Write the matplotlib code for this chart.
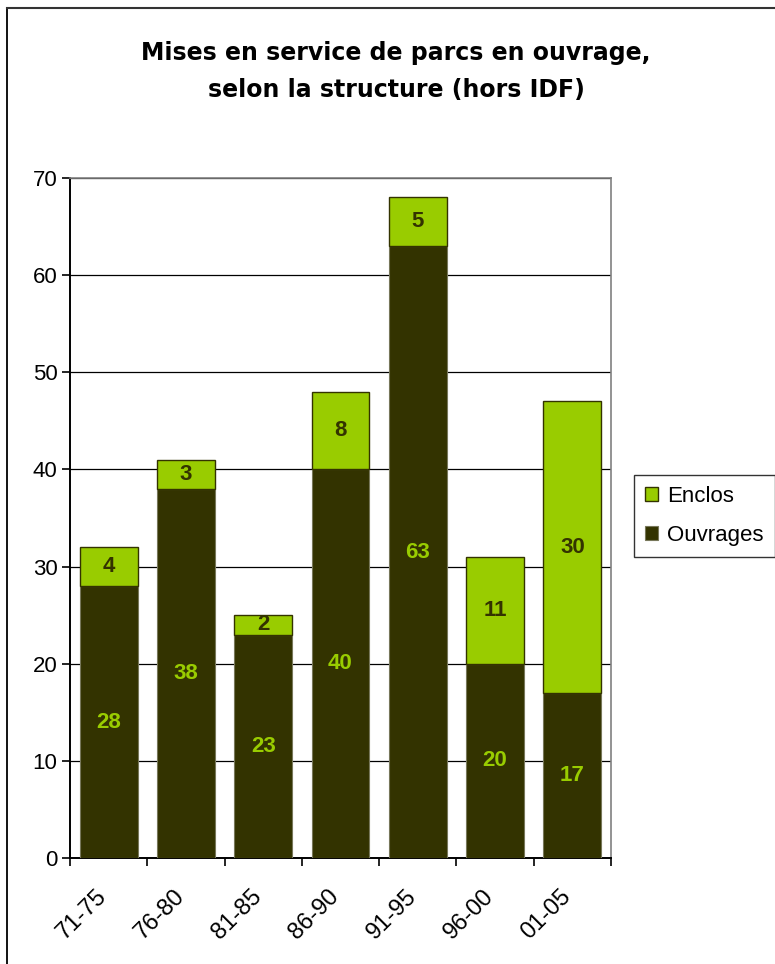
import matplotlib.pyplot as plt
import matplotlib.transforms as mtransforms
from matplotlib.lines import Line2D

plt.rcParams['font.family'] = ['Liberation Sans', 'DejaVu Sans']

periods = ['71-75', '76-80', '81-85', '86-90', '91-95', '96-00', '01-05']
ouvrages = [28, 38, 23, 40, 63, 20, 17]
enclos = [4, 3, 2, 8, 5, 11, 30]

dark = '#333300'
green = '#99cc00'

W, H = 775, 964
fig = plt.figure(figsize=(W / 100, H / 100), dpi=100)

# frame around the chart (left and top edges visible)
fig.add_artist(Line2D([6.5 / W, 6.5 / W], [0, 1 - 8 / H], transform=fig.transFigure,
                      color='black', linewidth=1.3))
fig.add_artist(Line2D([6.5 / W, 1], [1 - 8 / H, 1 - 8 / H], transform=fig.transFigure,
                      color='#333333', linewidth=1.5))

ax = fig.add_axes([70 / W, 1 - 858 / H, (611 - 70) / W, (858 - 178) / H])

x = list(range(len(periods)))
ax.bar(x, ouvrages, width=0.75, color=dark, edgecolor='#77775a', linewidth=0.8,
       label='Ouvrages', zorder=3)
ax.bar(x, enclos, width=0.75, bottom=ouvrages, color=green, edgecolor=dark,
       linewidth=1.0, label='Enclos', zorder=3)

for i, (o, e) in enumerate(zip(ouvrages, enclos)):
    ax.text(i, o / 2, str(o), ha='center', va='center', color=green,
            fontsize=16, fontweight='bold', zorder=4)
    ax.text(i, o + e / 2, str(e), ha='center', va='center', color=dark,
            fontsize=16, fontweight='bold', zorder=4)

ax.set_xlim(-0.5, len(periods) - 0.5)
ax.set_ylim(0, 70)
ax.set_yticks(range(0, 71, 10))
ax.yaxis.grid(True, color='black', linewidth=0.9, zorder=0)

# category boundaries carry the tick marks, labels sit under the bar centres
ax.set_xticks([i - 0.5 for i in range(len(periods) + 1)])
ax.set_xticklabels([])
ax.tick_params(axis='x', length=6, width=1.2, direction='out')
ax.tick_params(axis='y', length=6, width=1.2, labelsize=16, pad=3)

shift = mtransforms.ScaledTranslation(-5 / 100, -35 / 100, fig.dpi_scale_trans)
for i, p in enumerate(periods):
    ax.text(i, 0, p, rotation=45, ha='right', va='center', rotation_mode='anchor',
            fontsize=17, transform=ax.transData + shift, clip_on=False)

for side in ['top', 'right']:
    ax.spines[side].set_color('#808080')
    ax.spines[side].set_linewidth(1.2)
for side in ['left', 'bottom']:
    ax.spines[side].set_color('black')
    ax.spines[side].set_linewidth(1.4)

fig.text(396 / W, 1 - 53 / H, 'Mises en service de parcs en ouvrage,',
         ha='center', va='center', fontsize=17, fontweight='bold',
         family='DejaVu Sans')
fig.text(396 / W, 1 - 90 / H, 'selon la structure (hors IDF)',
         ha='center', va='center', fontsize=17, fontweight='bold',
         family='DejaVu Sans')

handles, labels = ax.get_legend_handles_labels()
leg = fig.legend(handles[::-1], labels[::-1], loc='upper left',
                 bbox_to_anchor=(634 / W, 1 - 475 / H), fontsize=16,
                 frameon=True, fancybox=False, edgecolor='black',
                 handlelength=0.6, handleheight=0.6, handletextpad=0.4,
                 borderpad=0.5, labelspacing=0.8, borderaxespad=0)
leg.get_frame().set_linewidth(1.0)

fig.savefig('out.png', dpi=100)
